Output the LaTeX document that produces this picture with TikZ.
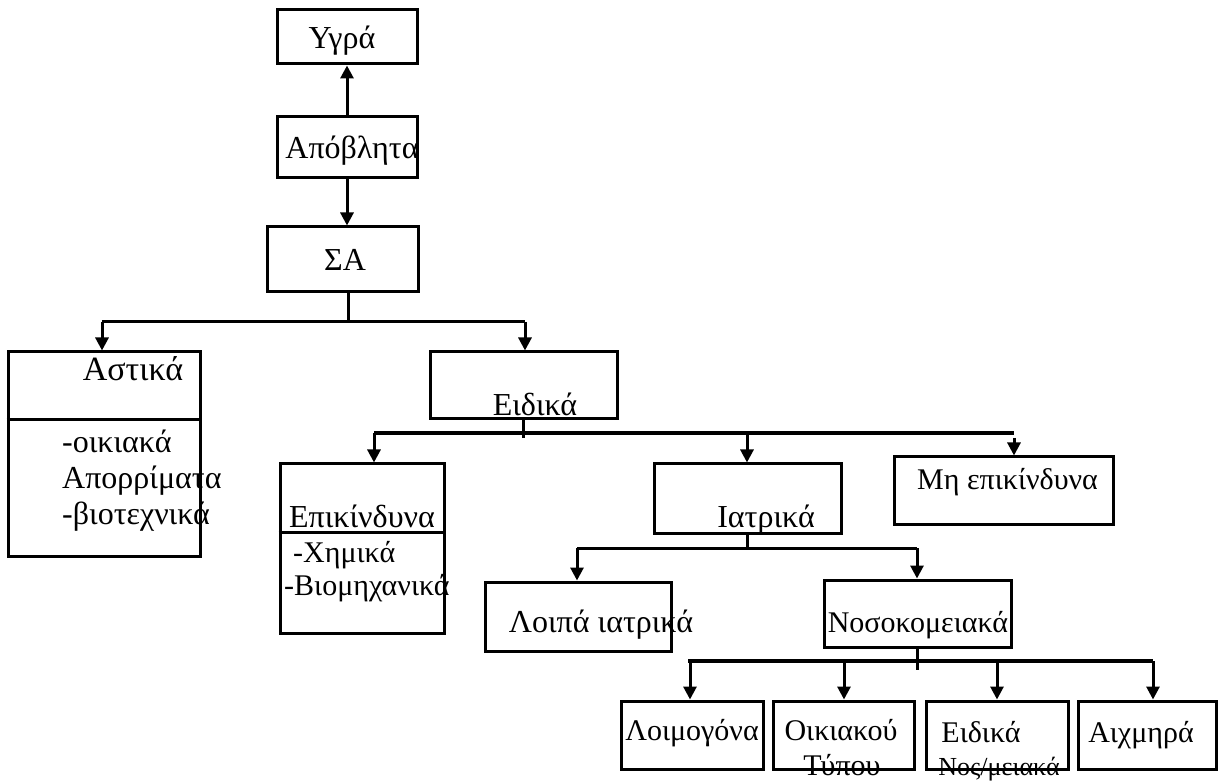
\documentclass[tikz,border=0pt]{standalone}
\usepackage{fontspec}
\setmainfont{Liberation Serif}
\usetikzlibrary{arrows.meta}
\begin{document}
\begin{tikzpicture}[x=1pt,y=-1pt,
  box/.style={draw, line width=3pt, inner sep=0pt},
  ln/.style={line width=3pt},
  thickln/.style={line width=4.2pt},
  arr/.style={line width=3pt, -{Triangle[length=13pt,width=13pt]}},
  txt/.style={inner sep=0pt, anchor=base, font=\fontsize{32}{38}\selectfont},
  txtw/.style={txt, anchor=base west},
  big/.style={font=\fontsize{34}{40}\selectfont},
  mid/.style={font=\fontsize{30}{36}\selectfont},
  small/.style={font=\fontsize{30}{35}\selectfont},
  tiny/.style={font=\fontsize{26}{31}\selectfont}]
\useasboundingbox (0,0) rectangle (1219,783);

% boxes
\node[box, minimum width=140pt, minimum height=54pt] (ygra) at (347,37) {};
\node[box, minimum width=140pt, minimum height=61pt] (apob) at (347,147.5) {};
\node[box, minimum width=151pt, minimum height=65pt] (sa) at (342.5,259.5) {};
\node[box, minimum width=192pt, minimum height=204pt] (astika) at (104,454) {};
\node[box, minimum width=187pt, minimum height=67pt] (eidika) at (523.5,385.5) {};
\node[box, minimum width=164pt, minimum height=169pt] (epik) at (362,548.5) {};
\node[box, minimum width=187pt, minimum height=69pt] (iatr) at (747.5,498.5) {};
\node[box, minimum width=219pt, minimum height=68pt] (mhep) at (1003.5,491) {};
\node[box, minimum width=186pt, minimum height=69pt] (loipa) at (578,616.5) {};
\node[box, minimum width=187pt, minimum height=67pt] (noso) at (917.5,613.5) {};
\node[box, minimum width=142pt, minimum height=68pt] (loim) at (692,735) {};
\node[box, minimum width=141pt, minimum height=68pt] (oik) at (843.5,735) {};
\node[box, minimum width=142pt, minimum height=68pt] (eid2) at (997,735) {};
\node[box, minimum width=138pt, minimum height=68pt] (aixm) at (1147,735) {};

% dividers inside the two split boxes
\draw[ln] (astika.west |- 0,420) -- (astika.east |- 0,420);
\draw[ln] (epik.west |- 0,532) -- (epik.east |- 0,532);

% labels
\node[txt] (t-ygra) at (342,49) {Υγρά};
\node[txt] (t-apob) at (352,159) {Απόβλητα};
\node[txt] (t-sa) at (345,271) {ΣΑ};
\node[txt, big] (t-astika) at (133,381) {Αστικά};
\node[txtw] (t-ast1) at (62,453) {-οικιακά};
\node[txtw] (t-ast2) at (62,489) {Απορρίματα};
\node[txtw] (t-ast3) at (62,525) {-βιοτεχνικά};
\node[txt] (t-eidika) at (535,416) {Ειδικά};
\node[txt] (t-epik) at (362,527) {Επικίνδυνα};
\node[txtw, mid] (t-epik1) at (293,562) {-Χημικά};
\node[txtw, mid] (t-epik2) at (284,595) {-Βιομηχανικά};
\node[txt] (t-iatr) at (766,527) {Ιατρικά};
\node[txtw, mid] (t-mhep) at (917,490) {Μη επικίνδυνα};
\node[txt] (t-loipa) at (601,632) {Λοιπά ιατρικά};
\node[txt, small] (t-noso) at (918,632) {Νοσοκομειακά};
\node[txt, small] (t-loim) at (692,740) {Λοιμογόνα};
\node[txt, small] (t-oik1) at (841,740) {Οικιακού};
\node[txt, small] (t-oik2) at (842,775) {Τύπου};
\node[txt, small] (t-eid1) at (981,742) {Ειδικά};
\node[txt, tiny] (t-eid2) at (999,775) {Νος/μειακά};
\node[txt, small] (t-aixm) at (1141,742) {Αιχμηρά};

% top chain
\draw[arr] (apob.north) -- (ygra.south);
\draw[arr] (apob.south) -- (apob.south |- sa.north);

% first split
\coordinate (saBus) at (348,322);
\coordinate (saL) at (102,322);
\coordinate (saR) at (525,322);
\draw[ln] (sa.south -| saBus) -- (saBus);
\draw[ln] (saL) -- (saR);
\draw[arr] (saL) -- (saL |- astika.north);
\draw[arr] (saR) -- (saR |- eidika.north);

% split of the special wastes
\coordinate (eiL) at (374,433);
\coordinate (eiM) at (747,433);
\coordinate (eiR) at (1014,433);
\draw[ln] (eidika.south) -- ++(0,18);
\draw[thickln] (eiL) -- (eiR);
\draw[arr] (eiL) -- (eiL |- epik.north);
\draw[arr] (eiM) -- (eiM |- iatr.north);
\draw[arr] ([yshift=-5pt]eiR) -- (eiR |- mhep.north);

% split of the medical wastes
\coordinate (iaL) at (577,548);
\coordinate (iaR) at (917,548);
\draw[ln] (iatr.south) -- (iatr.south |- iaL);
\draw[ln] (iaL) -- (iaR);
\draw[arr] (iaL) -- (iaL |- loipa.north);
\draw[arr] (iaR) -- (iaR |- noso.north);

% split of the hospital wastes
\coordinate (noL) at (688,661);
\coordinate (noR) at (1153,661);
\coordinate (no1) at (690,661);
\coordinate (no2) at (844,661);
\coordinate (no3) at (997,661);
\draw[ln] (noso.south) -- ++(0,21);
\draw[thickln] (noL) -- (noR);
\draw[arr] (no1) -- (no1 |- loim.north);
\draw[arr] (no2) -- (no2 |- oik.north);
\draw[arr] (no3) -- (no3 |- eid2.north);
\draw[arr] (noR) -- (noR |- aixm.north);
\end{tikzpicture}
\end{document}
